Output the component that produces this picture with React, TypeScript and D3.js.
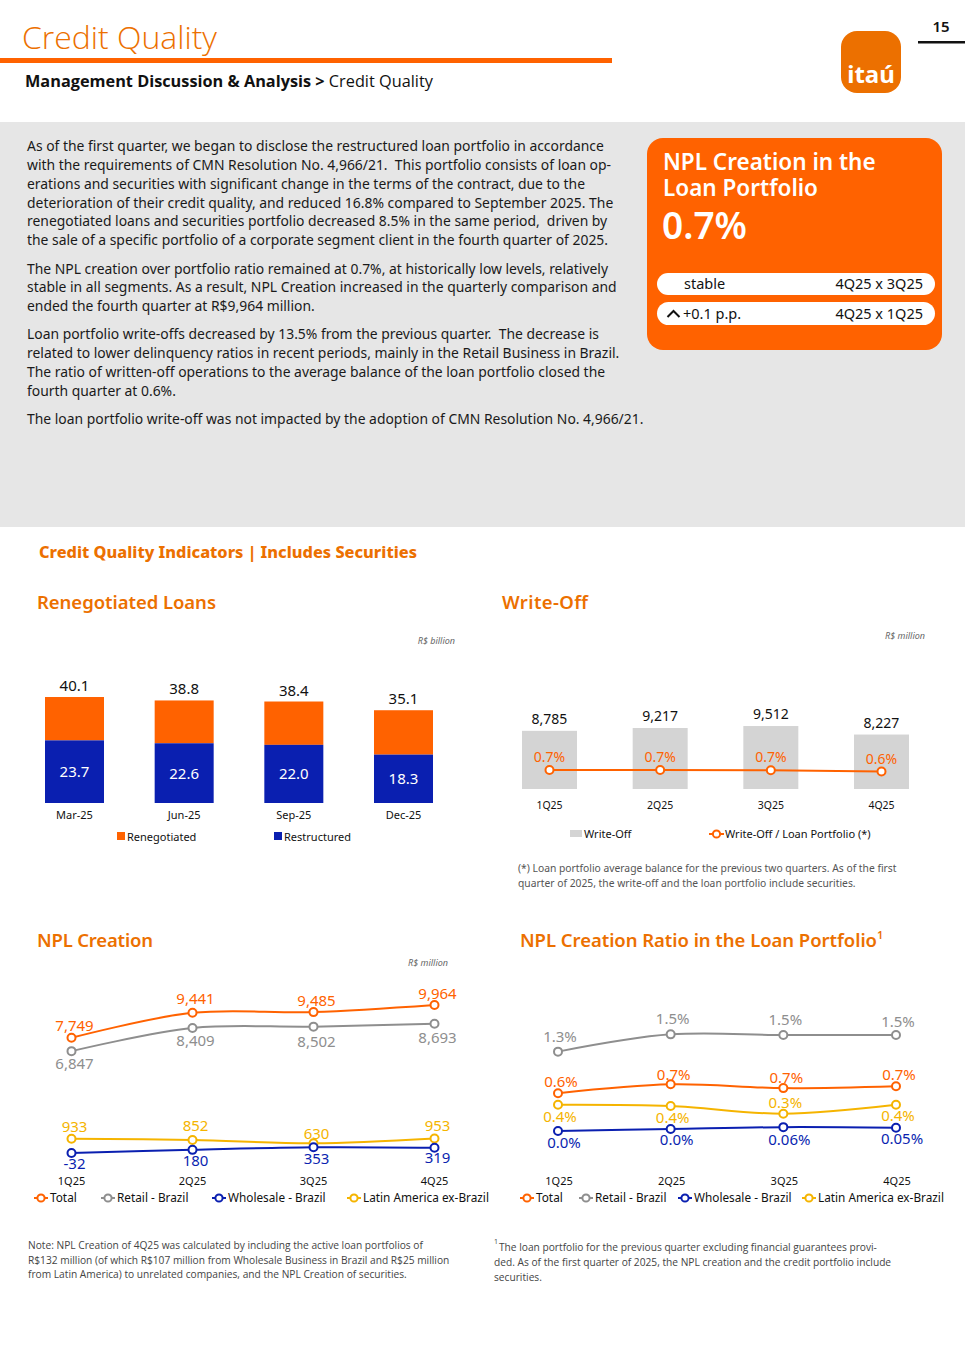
import React from 'react';
import * as d3 from 'd3';

const ORANGE = '#FF6200';
const ORANGE_TXT = '#EC7000';
const BLUE = '#0A1FB0';
const GREY = '#8E8E8E';
const YELLOW = '#F5B400';
const FONT = "'Noto Sans', 'Open Sans', sans-serif";

// Renegotiated loans, R$ billion
const renegMonths = ['Mar-25', 'Jun-25', 'Sep-25', 'Dec-25'];
const renegTotal = [40.1, 38.8, 38.4, 35.1];
const restructured = [23.7, 22.6, 22.0, 18.3];

// Write-off, R$ million
const quarters = ['1Q25', '2Q25', '3Q25', '4Q25'];
const writeOff = [8785, 9217, 9512, 8227];
const writeOffRatio = [0.7, 0.7, 0.68, 0.6];
const writeOffRatioLabels = ['0.7%', '0.7%', '0.7%', '0.6%'];

// NPL creation, R$ million
const nplTotal = [7749, 9441, 9485, 9964];
const nplRetail = [6847, 8409, 8502, 8693];
const nplWholesale = [-32, 180, 353, 319];
const nplLatam = [933, 852, 630, 953];

// NPL creation ratio, %
const ratioTotal = [0.59, 0.73, 0.67, 0.7];
const ratioRetail = [1.24, 1.51, 1.5, 1.5];
const ratioWholesale = [0.0, 0.03, 0.06, 0.05];
const ratioLatam = [0.41, 0.39, 0.27, 0.41];
const ratioTotalLabels = ['0.6%', '0.7%', '0.7%', '0.7%'];
const ratioRetailLabels = ['1.3%', '1.5%', '1.5%', '1.5%'];
const ratioWholesaleLabels = ['0.0%', '0.0%', '0.06%', '0.05%'];
const ratioLatamLabels = ['0.4%', '0.4%', '0.3%', '0.4%'];

const seriesNames = ['Total', 'Retail - Brazil', 'Wholesale - Brazil', 'Latin America ex-Brazil'];

const introParagraphs = [
  [
    'As of the first quarter, we began to disclose the restructured loan portfolio in accordance',
    'with the requirements of CMN Resolution No. 4,966/21.  This portfolio consists of loan op-',
    'erations and securities with significant change in the terms of the contract, due to the',
    'deterioration of their credit quality, and reduced 16.8% compared to September 2025. The',
    'renegotiated loans and securities portfolio decreased 8.5% in the same period,  driven by',
    'the sale of a specific portfolio of a corporate segment client in the fourth quarter of 2025.',
  ],
  [
    'The NPL creation over portfolio ratio remained at 0.7%, at historically low levels, relatively',
    'stable in all segments. As a result, NPL Creation increased in the quarterly comparison and',
    'ended the fourth quarter at R$9,964 million.',
  ],
  [
    'Loan portfolio write-offs decreased by 13.5% from the previous quarter.  The decrease is',
    'related to lower delinquency ratios in recent periods, mainly in the Retail Business in Brazil.',
    'The ratio of written-off operations to the average balance of the loan portfolio closed the',
    'fourth quarter at 0.6%.',
  ],
  ['The loan portfolio write-off was not impacted by the adoption of CMN Resolution No. 4,966/21.'],
];

const noteLeft = [
  'Note: NPL Creation of 4Q25 was calculated by including the active loan portfolios of',
  'R$132 million (of which R$107 million from Wholesale Business in Brazil and R$25 million',
  'from Latin America) to unrelated companies, and the NPL Creation of securities.',
];
const noteRight = [
  'The loan portfolio for the previous quarter excluding financial guarantees provi-',
  'ded. As of the first quarter of 2025, the NPL creation and the credit portfolio include',
  'securities.',
];

const fmt = d3.formatLocale({ decimal: '.', thousands: ',', grouping: [3], currency: ['R$', ''], minus: '-' }).format(',');

const Header = () => (
  <g fontFamily={FONT}>
    <text x={22} y={49} fontSize={32} fontWeight={300} fill={ORANGE_TXT} textLength={195} lengthAdjust="spacingAndGlyphs" fontFamily="'Open Sans', sans-serif">Credit Quality</text>
    <rect x={0} y={58} width={612} height={5} fill={ORANGE} />
    <text x={25} y={87} fontSize={16.3} fill="#111" fontFamily="'Open Sans', sans-serif">
      <tspan fontWeight={700}>Management Discussion &amp; Analysis &gt;</tspan>
      <tspan fontWeight={400}> Credit Quality</tspan>
    </text>
    <rect x={841} y={31} width={60} height={62} rx={16} fill={ORANGE_TXT} />
    <text x={871} y={83} textAnchor="middle" fontSize={24} fontWeight={700} fill="#fff">itaú</text>
    <text x={941} y={32} textAnchor="middle" fontSize={15} fontWeight={600} fill="#111">15</text>
    <rect x={918} y={41} width={47} height={2.5} fill="#111" />
  </g>
);

const Intro = () => {
  const lh = 18.85;
  let y = 151;
  const lines: { t: string; y: number }[] = [];
  introParagraphs.forEach((p) => {
    p.forEach((t) => {
      lines.push({ t, y });
      y += lh;
    });
    y += 9.4;
  });
  return (
    <g fontFamily={FONT}>
      <rect x={0} y={122} width={965} height={405} fill="#E6E6E6" />
      {lines.map((l, i) => (
        <text key={i} x={27} y={l.y} fontSize={13.9} fill="#1a1a1a" xmlSpace="preserve">{l.t}</text>
      ))}
      <rect x={647} y={138} width={295} height={212} rx={16} fill={ORANGE} />
      <foreignObject x={663} y={149} width={250} height={52}>
        <div
          style={{
            fontFamily: FONT,
            fontSize: '22.5px',
            fontWeight: 600,
            lineHeight: '25.5px',
            color: '#fff',
            margin: 0,
            width: 240,
          }}
        >
          NPL Creation in the Loan Portfolio
        </div>
      </foreignObject>
      <text x={662} y={239} fontSize={37} fontWeight={600} fill="#fff">0.7%</text>
      <rect x={657} y={273} width={278} height={22} rx={11} fill="#fff" />
      <text x={684} y={289} fontSize={14.5} fill="#111">stable</text>
      <text x={923} y={289} fontSize={14.5} fill="#111" textAnchor="end">4Q25 x 3Q25</text>
      <rect x={657} y={302} width={278} height={23} rx={11.5} fill="#fff" />
      <path d="M667.5,317 L673.5,311 L679.5,317" fill="none" stroke="#111" strokeWidth={2} />
      <text x={683} y={319} fontSize={14.5} fill="#111">+0.1 p.p.</text>
      <text x={923} y={319} fontSize={14.5} fill="#111" textAnchor="end">4Q25 x 1Q25</text>
    </g>
  );
};

const SectionTitle = ({ x, y, text, width, size = 18.5 }: { x: number; y: number; text: string; width: number; size?: number }) => (
  <text x={x} y={y} fontSize={size} fontWeight={600} fill={ORANGE_TXT} textLength={width} fontFamily={FONT}>{text}</text>
);

const Unit = ({ x, y, text }: { x: number; y: number; text: string }) => (
  <text x={x} y={y} fontSize={9} fontStyle="italic" fill="#666" textAnchor="end" fontFamily={FONT}>{text}</text>
);

const RenegotiatedChart = () => {
  const x = d3.scalePoint<string>().domain(renegMonths).range([74.5, 403.5]);
  const y = d3.scaleLinear().domain([0, 45]).range([803, 803 - 45 * 2.643]);
  const bw = 59;
  return (
    <g fontFamily={FONT}>
      <SectionTitle x={37} y={609} text="Renegotiated Loans" width={179} />
      <Unit x={455} y={644} text="R$ billion" />
      {renegMonths.map((m, i) => {
        const cx = x(m)!;
        return (
          <g key={m}>
            <rect x={cx - bw / 2} y={y(renegTotal[i])} width={bw} height={y(restructured[i]) - y(renegTotal[i])} fill={ORANGE} />
            <rect x={cx - bw / 2} y={y(restructured[i])} width={bw} height={y(0) - y(restructured[i])} fill={BLUE} />
            <text x={cx} y={y(renegTotal[i]) - 6} textAnchor="middle" fontSize={15} fill="#111">{renegTotal[i].toFixed(1)}</text>
            <text x={cx} y={(y(restructured[i]) + y(0)) / 2 + 5.5} textAnchor="middle" fontSize={15} fill="#fff">{restructured[i].toFixed(1)}</text>
            <text x={cx} y={819} textAnchor="middle" fontSize={11} fill="#111">{m}</text>
          </g>
        );
      })}
      <rect x={117} y={832} width={8} height={8} fill={ORANGE} />
      <text x={127} y={841} fontSize={11} fill="#111">Renegotiated</text>
      <rect x={274} y={832} width={8} height={8} fill={BLUE} />
      <text x={284} y={841} fontSize={11} fill="#111">Restructured</text>
    </g>
  );
};

const Marker = ({ cx, cy, color }: { cx: number; cy: number; color: string }) => (
  <circle cx={cx} cy={cy} r={4} fill="#fff" stroke={color} strokeWidth={2} />
);

const LegendLine = ({ x, y, color, label }: { x: number; y: number; color: string; label: string }) => (
  <g>
    <line x1={x} x2={x + 14} y1={y} y2={y} stroke={color} strokeWidth={2} />
    <circle cx={x + 7} cy={y} r={3.6} fill="#fff" stroke={color} strokeWidth={2} />
    <text x={x + 16} y={y + 4} fontSize={11.8} fill="#111">{label}</text>
  </g>
);

const WriteOffChart = () => {
  const x = d3.scalePoint<string>().domain(quarters).range([549.5, 881.5]);
  const yBar = d3.scaleLinear().domain([0, 10000]).range([789, 789 - 66.2]);
  const yRatio = d3.scaleLinear().domain([0, 0.7]).range([780.5, 770]);
  const bw = 55;
  const line = d3.line<number>().x((_, i) => x(quarters[i])!).y((d) => yRatio(d));
  return (
    <g fontFamily={FONT}>
      <SectionTitle x={502} y={609} text="Write-Off" width={86} />
      <Unit x={925} y={639} text="R$ million" />
      {quarters.map((q, i) => (
        <g key={q}>
          <rect x={x(q)! - bw / 2} y={yBar(writeOff[i])} width={bw} height={yBar(0) - yBar(writeOff[i])} fill="#D4D4D4" />
          <text x={x(q)!} y={yBar(writeOff[i]) - 7} textAnchor="middle" fontSize={14} fill="#111">{fmt(writeOff[i])}</text>
          <text x={x(q)!} y={yRatio(writeOffRatio[i]) - 8} textAnchor="middle" fontSize={14} fill={ORANGE}>{writeOffRatioLabels[i]}</text>
          <text x={x(q)!} y={809} textAnchor="middle" fontSize={10.5} fill="#111">{q}</text>
        </g>
      ))}
      <path d={line(writeOffRatio)!} fill="none" stroke={ORANGE} strokeWidth={2} />
      {quarters.map((q, i) => (
        <Marker key={q} cx={x(q)!} cy={yRatio(writeOffRatio[i])} color={ORANGE} />
      ))}
      <rect x={570} y={830} width={12} height={7} fill="#D4D4D4" />
      <text x={584} y={838} fontSize={11} fill="#111">Write-Off</text>
      <g>
        <line x1={709} x2={724} y1={834} y2={834} stroke={ORANGE} strokeWidth={2} />
        <circle cx={716.5} cy={834} r={3.6} fill="#fff" stroke={ORANGE} strokeWidth={2} />
        <text x={725} y={838} fontSize={11} fill="#111">Write-Off / Loan Portfolio (*)</text>
      </g>
      <text x={518} y={872} fontSize={10.3} fill="#555">(*) Loan portfolio average balance for the previous two quarters. As of the first</text>
      <text x={518} y={887} fontSize={10.3} fill="#555">quarter of 2025, the write-off and the loan portfolio include securities.</text>
    </g>
  );
};

type Series = { values: number[]; labels: string[]; color: string; dy: number[]; dx?: number };

const LineSeries = ({ s, x, y }: { s: Series; x: (i: number) => number; y: d3.ScaleLinear<number, number> }) => {
  const line = d3.line<number>().x((_, i) => x(i)).y((d) => y(d)).curve(d3.curveCatmullRom.alpha(0.5));
  return (
    <g>
      <path d={line(s.values)!} fill="none" stroke={s.color} strokeWidth={2} />
      {s.values.map((v, i) => (
        <Marker key={i} cx={x(i)} cy={y(v)} color={s.color} />
      ))}
      {s.values.map((v, i) => (
        <text key={'l' + i} x={x(i) + (s.dx ?? 3)} y={y(v) + s.dy[i]} textAnchor="middle" fontSize={15} fill={s.color}>{s.labels[i]}</text>
      ))}
    </g>
  );
};

const NplCreationChart = () => {
  const xp = d3.scalePoint<string>().domain(quarters).range([71.5, 434.5]);
  const x = (i: number) => xp(quarters[i])!;
  const y = d3.scaleLinear().domain([-32, 9964]).range([1153, 1005]);
  const series: Series[] = [
    { values: nplRetail, labels: nplRetail.map(fmt), color: GREY, dy: [18, 18, 20, 19] },
    { values: nplTotal, labels: nplTotal.map(fmt), color: ORANGE, dy: [-7, -9, -6, -6] },
    { values: nplLatam, labels: nplLatam.map(fmt), color: YELLOW, dy: [-7, -9, -4, -7] },
    { values: nplWholesale, labels: nplWholesale.map(fmt), color: BLUE, dy: [16, 16, 17, 15] },
  ];
  const legendX = [34, 101, 212, 347];
  const legendColors = [ORANGE, GREY, BLUE, YELLOW];
  return (
    <g fontFamily={FONT}>
      <SectionTitle x={37} y={947} text="NPL Creation" width={116} />
      <Unit x={448} y={966} text="R$ million" />
      {series.map((s, i) => (
        <LineSeries key={i} s={s} x={x} y={y} />
      ))}
      {quarters.map((q, i) => (
        <text key={q} x={x(i)} y={1185} textAnchor="middle" fontSize={11} fill="#111">{q}</text>
      ))}
      {seriesNames.map((n, i) => (
        <LegendLine key={n} x={legendX[i]} y={1198} color={legendColors[i]} label={n} />
      ))}
    </g>
  );
};

const NplRatioChart = () => {
  const xp = d3.scalePoint<string>().domain(quarters).range([558, 896]);
  const x = (i: number) => xp(quarters[i])!;
  const y = d3.scaleLinear().domain([0, 1.5]).range([1131, 1035]);
  const series: Series[] = [
    { values: ratioRetail, labels: ratioRetailLabels, color: GREY, dy: [-10, -10, -10, -8], dx: 2 },
    { values: ratioTotal, labels: ratioTotalLabels, color: ORANGE, dy: [-6, -4, -5, -6], dx: 3 },
    { values: ratioLatam, labels: ratioLatamLabels, color: YELLOW, dy: [17, 17, -6, 16], dx: 2 },
    { values: ratioWholesale, labels: ratioWholesaleLabels, color: BLUE, dy: [17, 16, 18, 16], dx: 6 },
  ];
  const legendX = [520, 579, 678, 802];
  const legendColors = [ORANGE, GREY, BLUE, YELLOW];
  return (
    <g fontFamily={FONT}>
      <text x={520} y={947} fontSize={18.5} fontWeight={600} fill={ORANGE_TXT} fontFamily={FONT}>
        <tspan textLength={357}>NPL Creation Ratio in the Loan Portfolio</tspan>
        <tspan fontSize={11} dy={-8}>1</tspan>
      </text>
      {series.map((s, i) => (
        <LineSeries key={i} s={s} x={x} y={y} />
      ))}
      {quarters.map((q, i) => (
        <text key={q} x={x(i) + 1} y={1185} textAnchor="middle" fontSize={11} fill="#111">{q}</text>
      ))}
      {seriesNames.map((n, i) => (
        <LegendLine key={n} x={legendX[i]} y={1198} color={legendColors[i]} label={n} />
      ))}
    </g>
  );
};

const Footnotes = () => (
  <g fontFamily="'Open Sans', sans-serif" fontSize={10.2} fill="#444">
    {noteLeft.map((t, i) => (
      <text key={i} x={28} y={1249 + i * 14.6}>{t}</text>
    ))}
    <text x={494} y={1244} fontSize={7}>1</text>
    {noteRight.map((t, i) => (
      <text key={i} x={i === 0 ? 499 : 494} y={1251 + i * 15}>{t}</text>
    ))}
  </g>
);

export default function App() {
  return (
    <div style={{ position: 'absolute', left: 0, top: 0 }}>
      <svg width={965} height={1365} viewBox="0 0 965 1365" style={{ display: 'block', background: '#fff' }}>
        <rect width={965} height={1365} fill="#fff" />
        <Header />
        <Intro />
        <text x={39} y={558} fontSize={16.5} fontWeight={800} fill={ORANGE_TXT} textLength={378} lengthAdjust="spacingAndGlyphs" fontFamily={FONT}>
          Credit Quality Indicators | Includes Securities
        </text>
        <RenegotiatedChart />
        <WriteOffChart />
        <NplCreationChart />
        <NplRatioChart />
        <Footnotes />
      </svg>
    </div>
  );
}
